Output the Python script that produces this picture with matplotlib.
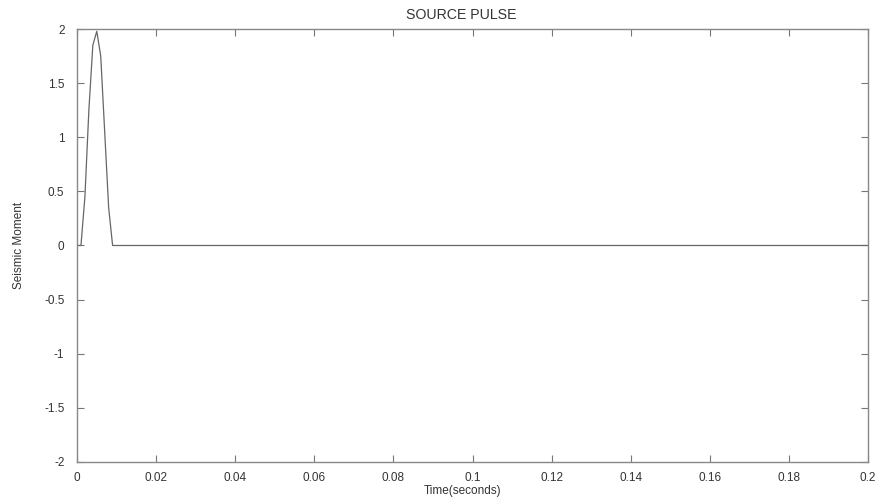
import matplotlib
matplotlib.use('Agg')
import matplotlib.pyplot as plt

# pulso da fonte
tempo = [0.0, 0.001, 0.002, 0.003, 0.004, 0.005, 0.006, 0.007, 0.008, 0.009, 0.010, 0.2]
momento = [0.0, 0.0, 0.45, 1.25, 1.85, 1.98, 1.75, 1.05, 0.35, 0.0, 0.0, 0.0]

xticks = [0, 0.02, 0.04, 0.06, 0.08, 0.1, 0.12, 0.14, 0.16, 0.18, 0.2]
xticklabels = ['0', '0.02', '0.04', '0.06', '0.08', '0.1', '0.12', '0.14', '0.16', '0.18', '0.2']
yticks = [-2, -1.5, -1, -0.5, 0, 0.5, 1, 1.5, 2]
yticklabels = ['-2', '-1.5', '-1', '-0.5', '0', '0.5', '1', '1.5', '2']

plt.rcParams['font.family'] = ['Liberation Sans', 'DejaVu Sans']
plt.rcParams['font.size'] = 8.5

fig = plt.figure(figsize=(8.8, 5.01), dpi=100)
ax = fig.add_axes([0.0875, 0.078, 0.899, 0.864])

ax.plot(tempo, momento, color='#666666', linewidth=0.9)

ax.set_xlim(0, 0.2)
ax.set_ylim(-2, 2)
ax.set_xticks(xticks)
ax.set_xticklabels(xticklabels)
ax.set_yticks(yticks)
ax.set_yticklabels(yticklabels)
ax.tick_params(direction='in', top=True, right=True, length=5, color='#777777', labelcolor='#333333')
ax.tick_params(axis='x', pad=7)
ax.tick_params(axis='y', pad=9)
for s in ax.spines.values():
    s.set_color('#888888')
    s.set_linewidth(1.0)

ax.set_xlabel('Time(seconds)', color='#333333', x=0.487, labelpad=1)
ax.set_ylabel('Seismic Moment', color='#333333')
ax.yaxis.set_label_coords(-0.066, 0.5)
ax.set_title('SOURCE PULSE', color='#333333', x=0.486, pad=7)

fig.savefig('out.png', dpi=100, facecolor='white')
